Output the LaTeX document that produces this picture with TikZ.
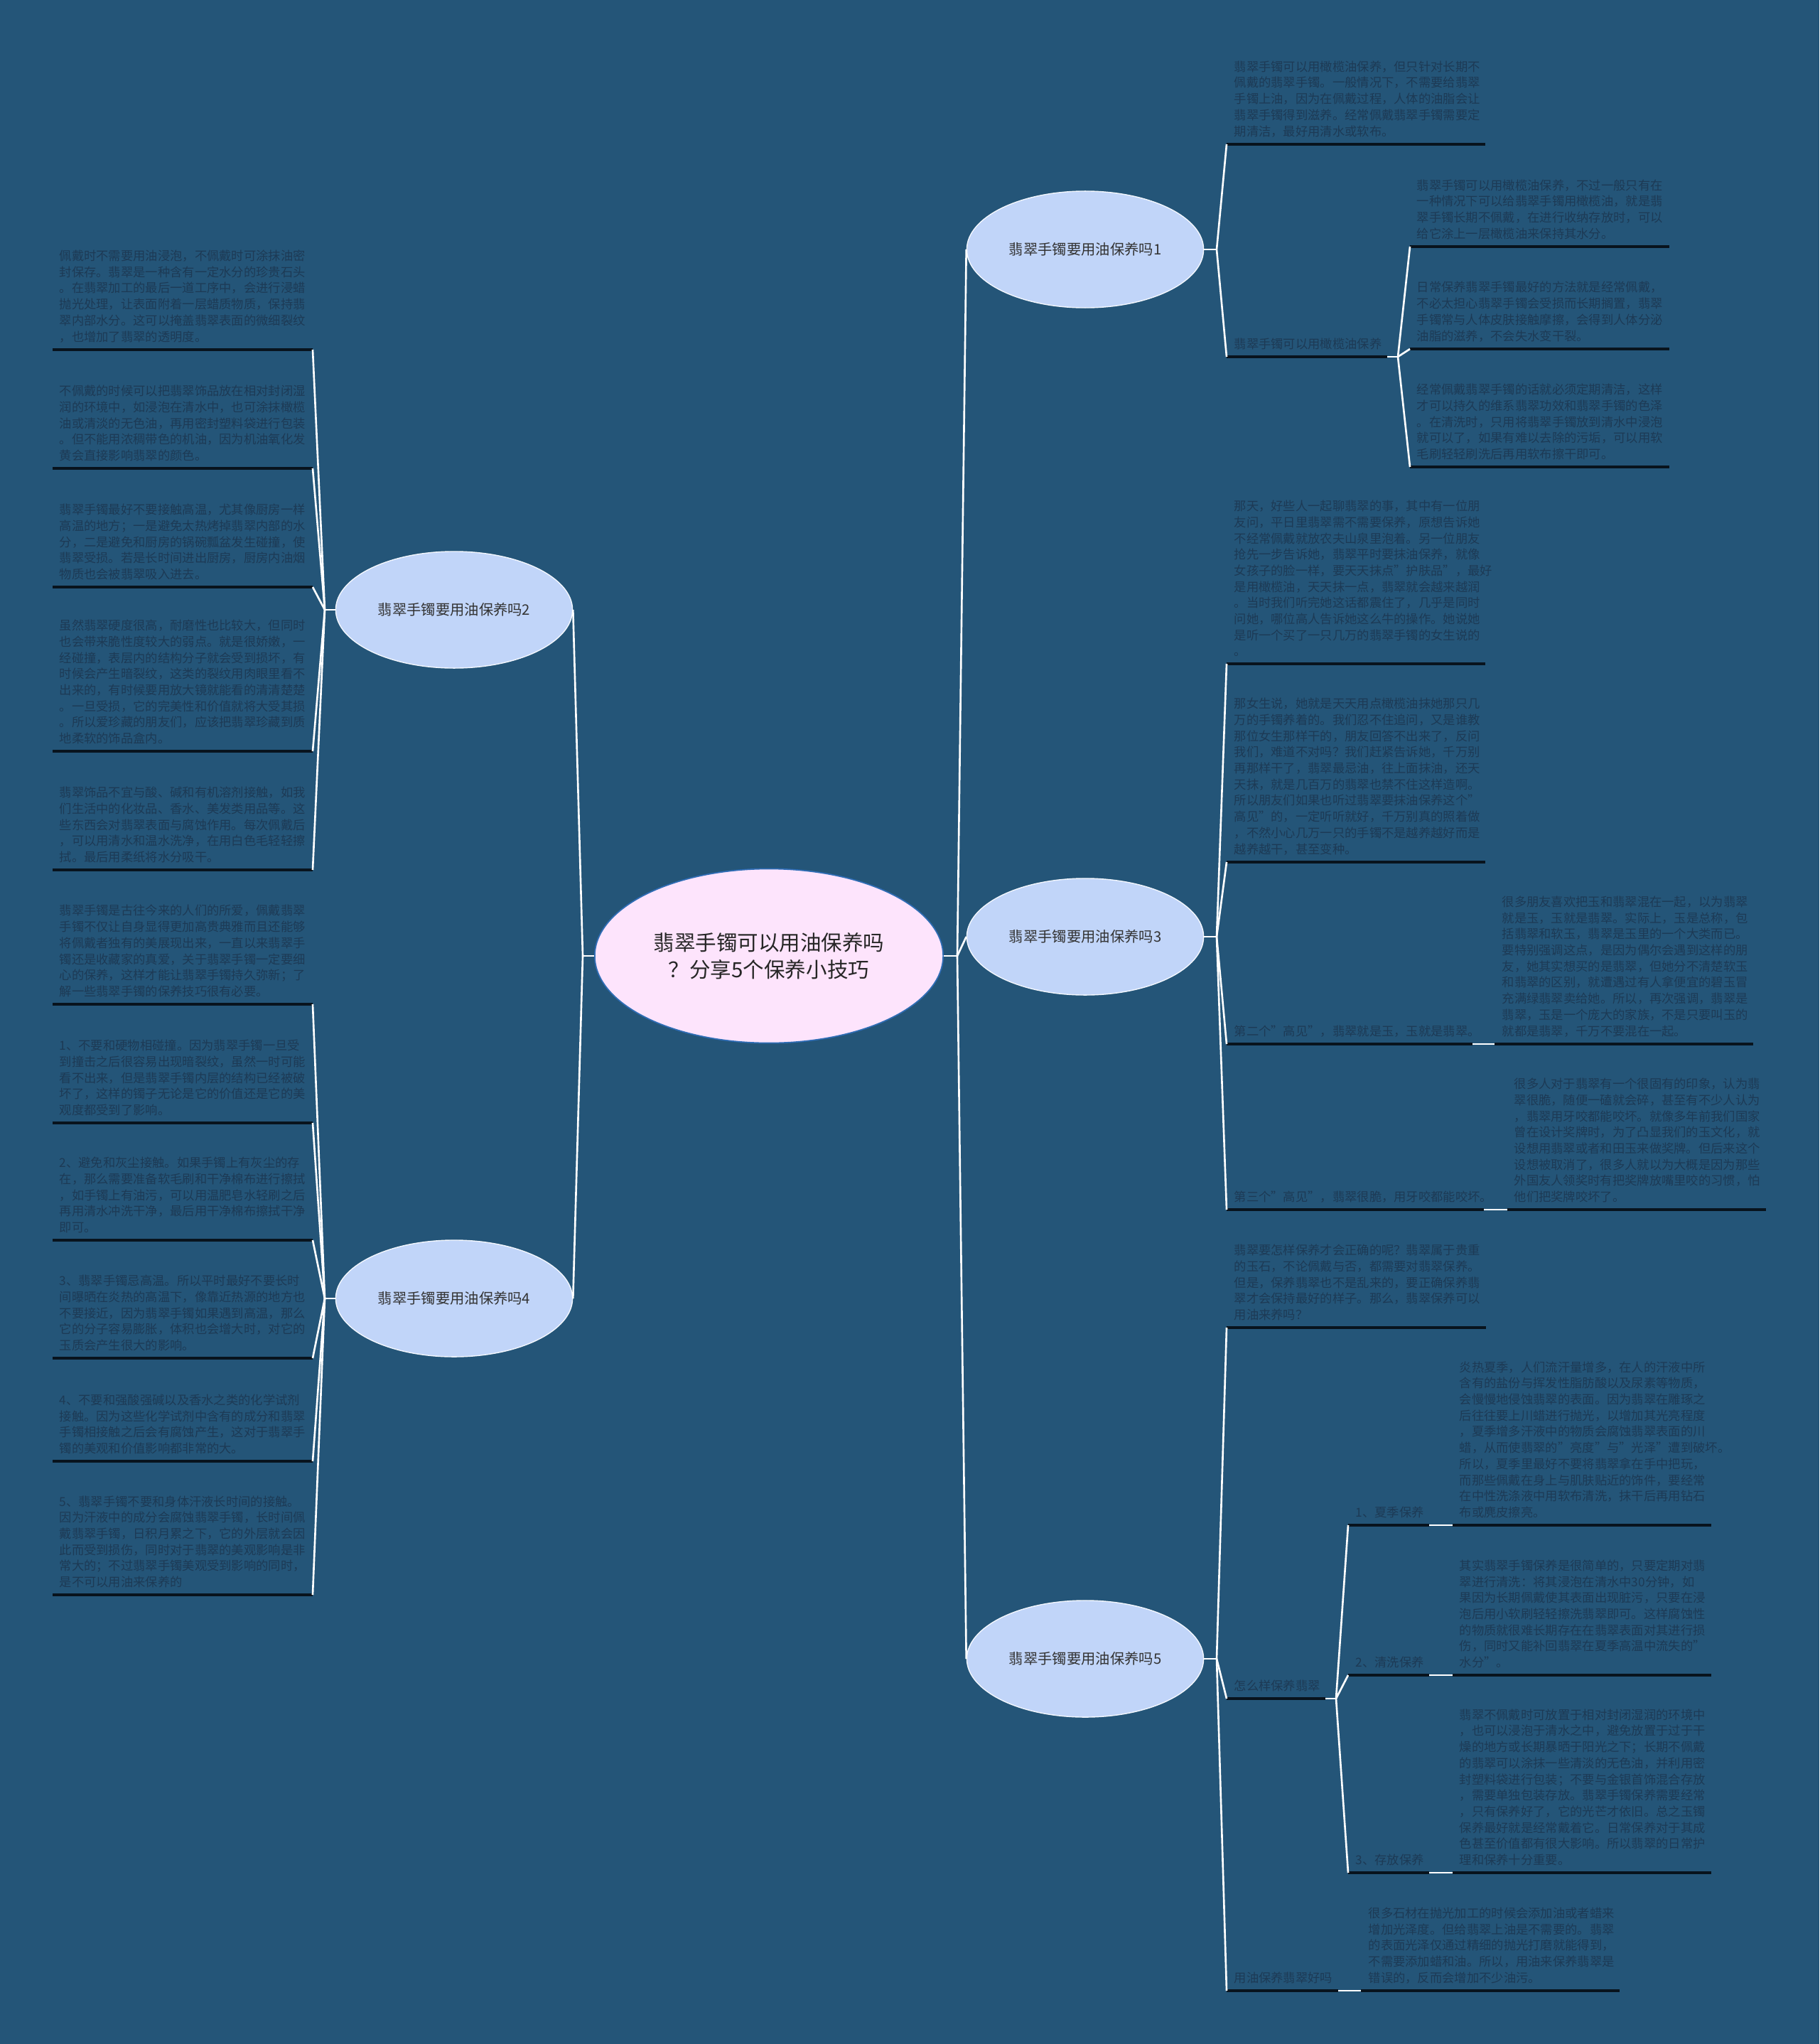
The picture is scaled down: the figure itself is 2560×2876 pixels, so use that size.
\documentclass[tikz,border=0pt]{standalone}
\usepackage{fontspec}
\setmainfont{Noto Sans CJK SC}
\usetikzlibrary{shapes.geometric}
\definecolor{bgblue}{HTML}{245578}
\definecolor{topicfill}{HTML}{C1D5F9}
\definecolor{rootfill}{HTML}{FDE4FC}
\definecolor{rootline}{HTML}{2F6DB5}
\definecolor{leaftext}{HTML}{1D3A55}
\definecolor{ulinecol}{HTML}{08131D}
\tikzset{
  conn/.style={draw=white, line width=0.75pt},
  uline/.style={draw=ulinecol, line width=1pt},
  txt/.style={anchor=south west, inner sep=0pt, align=left, text=leaftext,
    yshift=-5pt, font=\fontsize{4.92pt}{6.45pt}\selectfont},
  topic/.style={ellipse, fill=topicfill, draw=white!80!topicfill, line width=0.4pt,
    minimum width=3.33cm, minimum height=1.64cm, inner sep=0pt, text=black!80,
    font=\fontsize{5.78pt}{7pt}\selectfont},
  root/.style={ellipse, fill=rootfill, draw=rootline, line width=0.5pt,
    minimum width=4.9cm, minimum height=2.45cm, inner sep=0pt, align=center,
    text=black!85, font=\fontsize{8.4pt}{10.8pt}\selectfont}
}
\begin{document}
\begin{tikzpicture}[x=0.01cm, y=-0.01cm]
    \fill[bgblue] (0,0) rectangle (2560,2876);
    \useasboundingbox (0,0) rectangle (2560,2876);

    % centre and main topics
    \node[root] (root) at (1082,1345) {翡翠手镯可以用油保养吗\\？分享5个保养小技巧};
    \node[topic] (b1) at (1527,351) {翡翠手镯要用油保养吗1};
    \node[topic] (b3) at (1527,1318) {翡翠手镯要用油保养吗3};
    \node[topic] (b5) at (1527,2334) {翡翠手镯要用油保养吗5};
    \node[topic] (b2) at (639,858) {翡翠手镯要用油保养吗2};
    \node[topic] (b4) at (639,1827) {翡翠手镯要用油保养吗4};

    \coordinate (jr) at (1347,1345);
    \coordinate (jl) at (820,1345);
    \draw[conn] (root.east) -- (jr);
    \draw[conn] (root.west) -- (jl);
    \draw[conn] (jr) -- (b1.west);
    \draw[conn] (jr) -- (b3.west);
    \draw[conn] (jr) -- (b5.west);
    \draw[conn] (jl) -- (b2.east);
    \draw[conn] (jl) -- (b4.east);

    % topic 1
    \coordinate (u1a) at (1726,203);
    \coordinate (ul1) at (1726,502);
    \coordinate (el1) at (1952,502);
    \coordinate (u1b) at (1984,347);
    \coordinate (u1c) at (1984,491);
    \coordinate (u1d) at (1984,657);
    \draw[uline] (u1a) -- ++(364,0);
    \draw[uline] (ul1) -- (el1);
    \draw[uline] (u1b) -- ++(365,0);
    \draw[uline] (u1c) -- ++(365,0);
    \draw[uline] (u1d) -- ++(365,0);
    \node[txt] (t1a) at (1736,176) {翡翠手镯可以用橄榄油保养，但只针对长期不\\
      佩戴的翡翠手镯。一般情况下，不需要给翡翠\\
      手镯上油，因为在佩戴过程，人体的油脂会让\\
      翡翠手镯得到滋养。经常佩戴翡翠手镯需要定\\
      期清洁，最好用清水或软布。};
    \node[txt] (l1) at (1736,475) {翡翠手镯可以用橄榄油保养};
    \node[txt] (t1b) at (1993,320) {翡翠手镯可以用橄榄油保养，不过一般只有在\\
      一种情况下可以给翡翠手镯用橄榄油，就是翡\\
      翠手镯长期不佩戴，在进行收纳存放时，可以\\
      给它涂上一层橄榄油来保持其水分。};
    \node[txt] (t1c) at (1993,464) {日常保养翡翠手镯最好的方法就是经常佩戴，\\
      不必太担心翡翠手镯会受损而长期搁置，翡翠\\
      手镯常与人体皮肤接触摩擦，会得到人体分泌\\
      油脂的滋养，不会失水变干裂。};
    \node[txt] (t1d) at (1993,630) {经常佩戴翡翠手镯的话就必须定期清洁，这样\\
      才可以持久的维系翡翠功效和翡翠手镯的色泽\\
      。在清洗时，只用将翡翠手镯放到清水中浸泡\\
      就可以了，如果有难以去除的污垢，可以用软\\
      毛刷轻轻刷洗后再用软布擦干即可。};
    \coordinate (j1) at (1712,351);
    \coordinate (jl1) at (1967,502);
    \draw[conn] (b1.east) -- (j1);
    \draw[conn] (j1) -- (u1a);
    \draw[conn] (j1) -- (ul1);
    \draw[conn] (el1) -- (jl1);
    \draw[conn] (jl1) -- (u1b);
    \draw[conn] (jl1) -- (u1c);
    \draw[conn] (jl1) -- (u1d);

    % topic 3
    \coordinate (u3a) at (1726,934);
    \coordinate (u3b) at (1726,1213);
    \coordinate (ul3c) at (1726,1469);
    \coordinate (el3c) at (2072,1469);
    \coordinate (u3c) at (2103,1469);
    \coordinate (ul3d) at (1726,1702);
    \coordinate (el3d) at (2088,1702);
    \coordinate (u3d) at (2121,1702);
    \draw[uline] (u3a) -- ++(364,0);
    \draw[uline] (u3b) -- ++(364,0);
    \draw[uline] (ul3c) -- (el3c);
    \draw[uline] (u3c) -- ++(364,0);
    \draw[uline] (ul3d) -- (el3d);
    \draw[uline] (u3d) -- ++(364,0);
    \node[txt] (t3a) at (1736,907) {那天，好些人一起聊翡翠的事，其中有一位朋\\
      友问，平日里翡翠需不需要保养，原想告诉她\\
      不经常佩戴就放农夫山泉里泡着。另一位朋友\\
      抢先一步告诉她，翡翠平时要抹油保养，就像\\
      女孩子的脸一样，要天天抹点"护肤品"，最好\\
      是用橄榄油，天天抹一点，翡翠就会越来越润\\
      。当时我们听完她这话都震住了，几乎是同时\\
      问她，哪位高人告诉她这么牛的操作。她说她\\
      是听一个买了一只几万的翡翠手镯的女生说的\\
      。};
    \node[txt] (t3b) at (1736,1186) {那女生说，她就是天天用点橄榄油抹她那只几\\
      万的手镯养着的。我们忍不住追问，又是谁教\\
      那位女生那样干的，朋友回答不出来了，反问\\
      我们，难道不对吗？我们赶紧告诉她，千万别\\
      再那样干了，翡翠最忌油，往上面抹油，还天\\
      天抹，就是几百万的翡翠也禁不住这样造啊。\\
      所以朋友们如果也听过翡翠要抹油保养这个"\\
      高见"的，一定听听就好，千万别真的照着做\\
      ，不然小心几万一只的手镯不是越养越好而是\\
      越养越干，甚至变种。};
    \node[txt] (l3c) at (1736,1442) {第二个"高见"，翡翠就是玉，玉就是翡翠。};
    \node[txt] (t3c) at (2113,1442) {很多朋友喜欢把玉和翡翠混在一起，以为翡翠\\
      就是玉，玉就是翡翠。实际上，玉是总称，包\\
      括翡翠和软玉，翡翠是玉里的一个大类而已。\\
      要特别强调这点，是因为偶尔会遇到这样的朋\\
      友，她其实想买的是翡翠，但她分不清楚软玉\\
      和翡翠的区别，就遭遇过有人拿便宜的碧玉冒\\
      充满绿翡翠卖给她。所以，再次强调，翡翠是\\
      翡翠，玉是一个庞大的家族，不是只要叫玉的\\
      就都是翡翠，千万不要混在一起。};
    \node[txt] (l3d) at (1736,1675) {第三个"高见"，翡翠很脆，用牙咬都能咬坏。};
    \node[txt] (t3d) at (2130,1675) {很多人对于翡翠有一个很固有的印象，认为翡\\
      翠很脆，随便一磕就会碎，甚至有不少人认为\\
      ，翡翠用牙咬都能咬坏。就像多年前我们国家\\
      曾在设计奖牌时，为了凸显我们的玉文化，就\\
      设想用翡翠或者和田玉来做奖牌。但后来这个\\
      设想被取消了，很多人就以为大概是因为那些\\
      外国友人领奖时有把奖牌放嘴里咬的习惯，怕\\
      他们把奖牌咬坏了。};
    \coordinate (j3) at (1712,1318);
    \draw[conn] (b3.east) -- (j3);
    \draw[conn] (j3) -- (u3a);
    \draw[conn] (j3) -- (u3b);
    \draw[conn] (j3) -- (ul3c);
    \draw[conn] (j3) -- (ul3d);
    \draw[conn] (el3c) -- (u3c);
    \draw[conn] (el3d) -- (u3d);

    % topic 5
    \coordinate (u5a) at (1726,1868);
    \coordinate (ul5b) at (1726,2390);
    \coordinate (el5b) at (1865,2390);
    \coordinate (ul5b1) at (1897,2146);
    \coordinate (el5b1) at (2011,2146);
    \coordinate (u5b1) at (2044,2146);
    \coordinate (ul5b2) at (1897,2357);
    \coordinate (el5b2) at (2011,2357);
    \coordinate (u5b2) at (2044,2357);
    \coordinate (ul5b3) at (1897,2635);
    \coordinate (el5b3) at (2011,2635);
    \coordinate (u5b3) at (2044,2635);
    \coordinate (ul5c) at (1726,2801);
    \coordinate (el5c) at (1883,2801);
    \coordinate (u5c) at (1915,2801);
    \draw[uline] (u5a) -- ++(365,0);
    \draw[uline] (ul5b) -- (el5b);
    \draw[uline] (ul5b1) -- (el5b1);
    \draw[uline] (u5b1) -- ++(364,0);
    \draw[uline] (ul5b2) -- (el5b2);
    \draw[uline] (u5b2) -- ++(364,0);
    \draw[uline] (ul5b3) -- (el5b3);
    \draw[uline] (u5b3) -- ++(364,0);
    \draw[uline] (ul5c) -- (el5c);
    \draw[uline] (u5c) -- ++(364,0);
    \node[txt] (t5a) at (1736,1841) {翡翠要怎样保养才会正确的呢？翡翠属于贵重\\
      的玉石，不论佩戴与否，都需要对翡翠保养。\\
      但是，保养翡翠也不是乱来的，要正确保养翡\\
      翠才会保持最好的样子。那么，翡翠保养可以\\
      用油来养吗？};
    \node[txt] (l5b) at (1736,2363) {怎么样保养翡翠};
    \node[txt] (l5b1) at (1907,2119) {1、夏季保养};
    \node[txt] (t5b1) at (2053,2119) {炎热夏季，人们流汗量增多，在人的汗液中所\\
      含有的盐份与挥发性脂肪酸以及尿素等物质，\\
      会慢慢地侵蚀翡翠的表面。因为翡翠在雕琢之\\
      后往往要上川蜡进行抛光，以增加其光亮程度\\
      ，夏季增多汗液中的物质会腐蚀翡翠表面的川\\
      蜡，从而使翡翠的"亮度"与"光泽"遭到破坏。\\
      所以，夏季里最好不要将翡翠拿在手中把玩，\\
      而那些佩戴在身上与肌肤贴近的饰件，要经常\\
      在中性洗涤液中用软布清洗，抹干后再用钻石\\
      布或麂皮擦亮。};
    \node[txt] (l5b2) at (1907,2330) {2、清洗保养};
    \node[txt] (t5b2) at (2053,2330) {其实翡翠手镯保养是很简单的，只要定期对翡\\
      翠进行清洗：将其浸泡在清水中30分钟，如\\
      果因为长期佩戴使其表面出现脏污，只要在浸\\
      泡后用小软刷轻轻擦洗翡翠即可。这样腐蚀性\\
      的物质就很难长期存在在翡翠表面对其进行损\\
      伤，同时又能补回翡翠在夏季高温中流失的"\\
      水分"。};
    \node[txt] (l5b3) at (1907,2608) {3、存放保养};
    \node[txt] (t5b3) at (2053,2608) {翡翠不佩戴时可放置于相对封闭湿润的环境中\\
      ，也可以浸泡于清水之中，避免放置于过于干\\
      燥的地方或长期暴晒于阳光之下；长期不佩戴\\
      的翡翠可以涂抹一些清淡的无色油，并利用密\\
      封塑料袋进行包装；不要与金银首饰混合存放\\
      ，需要单独包装存放。翡翠手镯保养需要经常\\
      ，只有保养好了，它的光芒才依旧。总之玉镯\\
      保养最好就是经常戴着它。日常保养对于其成\\
      色甚至价值都有很大影响。所以翡翠的日常护\\
      理和保养十分重要。};
    \node[txt] (l5c) at (1736,2774) {用油保养翡翠好吗};
    \node[txt] (t5c) at (1925,2774) {很多石材在抛光加工的时候会添加油或者蜡来\\
      增加光泽度。但给翡翠上油是不需要的。翡翠\\
      的表面光泽仅通过精细的抛光打磨就能得到，\\
      不需要添加蜡和油。所以，用油来保养翡翠是\\
      错误的，反而会增加不少油污。};
    \coordinate (j5) at (1712,2334);
    \coordinate (j5b) at (1880,2390);
    \draw[conn] (b5.east) -- (j5);
    \draw[conn] (j5) -- (u5a);
    \draw[conn] (j5) -- (ul5b);
    \draw[conn] (j5) -- (ul5c);
    \draw[conn] (el5b) -- (j5b);
    \draw[conn] (j5b) -- (ul5b1);
    \draw[conn] (j5b) -- (ul5b2);
    \draw[conn] (j5b) -- (ul5b3);
    \draw[conn] (el5b1) -- (u5b1);
    \draw[conn] (el5b2) -- (u5b2);
    \draw[conn] (el5b3) -- (u5b3);
    \draw[conn] (el5c) -- (u5c);

    % topic 2
    \coordinate (e2a) at (440,492);
    \coordinate (e2b) at (440,659);
    \coordinate (e2c) at (440,826);
    \coordinate (e2d) at (440,1057);
    \coordinate (e2e) at (440,1224);
    \foreach \e in {e2a,e2b,e2c,e2d,e2e}
      \draw[uline] (\e) -- ++(-366,0);
    \node[txt] (t2a) at (83,465) {佩戴时不需要用油浸泡，不佩戴时可涂抹油密\\
      封保存。翡翠是一种含有一定水分的珍贵石头\\
      。在翡翠加工的最后一道工序中，会进行浸蜡\\
      抛光处理，让表面附着一层蜡质物质，保持翡\\
      翠内部水分。这可以掩盖翡翠表面的微细裂纹\\
      ，也增加了翡翠的透明度。};
    \node[txt] (t2b) at (83,632) {不佩戴的时候可以把翡翠饰品放在相对封闭湿\\
      润的环境中，如浸泡在清水中，也可涂抹橄榄\\
      油或清淡的无色油，再用密封塑料袋进行包装\\
      。但不能用浓稠带色的机油，因为机油氧化发\\
      黄会直接影响翡翠的颜色。};
    \node[txt] (t2c) at (83,799) {翡翠手镯最好不要接触高温，尤其像厨房一样\\
      高温的地方；一是避免太热烤掉翡翠内部的水\\
      分，二是避免和厨房的锅碗瓢盆发生碰撞，使\\
      翡翠受损。若是长时间进出厨房，厨房内油烟\\
      物质也会被翡翠吸入进去。};
    \node[txt] (t2d) at (83,1030) {虽然翡翠硬度很高，耐磨性也比较大，但同时\\
      也会带来脆性度较大的弱点。就是很娇嫩，一\\
      经碰撞，表层内的结构分子就会受到损坏，有\\
      时候会产生暗裂纹，这类的裂纹用肉眼里看不\\
      出来的，有时候要用放大镜就能看的清清楚楚\\
      。一旦受损，它的完美性和价值就将大受其损\\
      。所以爱珍藏的朋友们，应该把翡翠珍藏到质\\
      地柔软的饰品盒内。};
    \node[txt] (t2e) at (83,1197) {翡翠饰品不宜与酸、碱和有机溶剂接触，如我\\
      们生活中的化妆品、香水、美发类用品等。这\\
      些东西会对翡翠表面与腐蚀作用。每次佩戴后\\
      ，可以用清水和温水洗净，在用白色毛轻轻擦\\
      拭。最后用柔纸将水分吸干。};
    \coordinate (j2) at (457,858);
    \draw[conn] (b2.west) -- (j2);
    \foreach \e in {e2a,e2b,e2c,e2d,e2e}
      \draw[conn] (j2) -- (\e);

    % topic 4
    \coordinate (e4a) at (440,1413);
    \coordinate (e4b) at (440,1580);
    \coordinate (e4c) at (440,1745);
    \coordinate (e4d) at (440,1911);
    \coordinate (e4e) at (440,2056);
    \coordinate (e4f) at (440,2244);
    \foreach \e in {e4a,e4b,e4c,e4d,e4e,e4f}
      \draw[uline] (\e) -- ++(-366,0);
    \node[txt] (t4a) at (83,1386) {翡翠手镯是古往今来的人们的所爱，佩戴翡翠\\
      手镯不仅让自身显得更加高贵典雅而且还能够\\
      将佩戴者独有的美展现出来，一直以来翡翠手\\
      镯还是收藏家的真爱，关于翡翠手镯一定要细\\
      心的保养，这样才能让翡翠手镯持久弥新；了\\
      解一些翡翠手镯的保养技巧很有必要。};
    \node[txt] (t4b) at (83,1553) {1、不要和硬物相碰撞。因为翡翠手镯一旦受\\
      到撞击之后很容易出现暗裂纹，虽然一时可能\\
      看不出来，但是翡翠手镯内层的结构已经被破\\
      坏了，这样的镯子无论是它的价值还是它的美\\
      观度都受到了影响。};
    \node[txt] (t4c) at (83,1718) {2、避免和灰尘接触。如果手镯上有灰尘的存\\
      在，那么需要准备软毛刷和干净棉布进行擦拭\\
      ，如手镯上有油污，可以用温肥皂水轻刷之后\\
      再用清水冲洗干净，最后用干净棉布擦拭干净\\
      即可。};
    \node[txt] (t4d) at (83,1884) {3、翡翠手镯忌高温。所以平时最好不要长时\\
      间曝晒在炎热的高温下，像靠近热源的地方也\\
      不要接近，因为翡翠手镯如果遇到高温，那么\\
      它的分子容易膨胀，体积也会增大时，对它的\\
      玉质会产生很大的影响。};
    \node[txt] (t4e) at (83,2029) {4、不要和强酸强碱以及香水之类的化学试剂\\
      接触。因为这些化学试剂中含有的成分和翡翠\\
      手镯相接触之后会有腐蚀产生，这对于翡翠手\\
      镯的美观和价值影响都非常的大。};
    \node[txt] (t4f) at (83,2217) {5、翡翠手镯不要和身体汗液长时间的接触。\\
      因为汗液中的成分会腐蚀翡翠手镯，长时间佩\\
      戴翡翠手镯，日积月累之下，它的外层就会因\\
      此而受到损伤，同时对于翡翠的美观影响是非\\
      常大的；不过翡翠手镯美观受到影响的同时，\\
      是不可以用油来保养的};
    \coordinate (j4) at (457,1827);
    \draw[conn] (b4.west) -- (j4);
    \foreach \e in {e4a,e4b,e4c,e4d,e4e,e4f}
      \draw[conn] (j4) -- (\e);
\end{tikzpicture}
\end{document}
